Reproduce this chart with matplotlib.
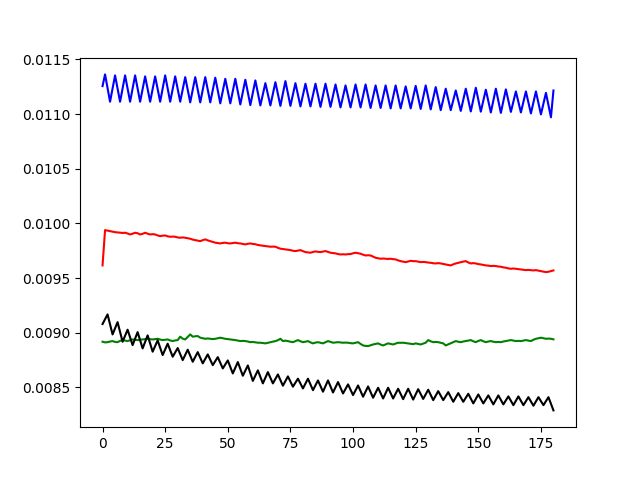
import matplotlib
matplotlib.use("Agg")
import matplotlib.pyplot as plt
import numpy as np

blue = [
    0.011256, 0.011363, 0.011238, 0.011113, 0.011234, 0.011354, 0.011234, 0.011113, 0.011234, 0.011354,
    0.011234, 0.011113, 0.011234, 0.011354, 0.011234, 0.011113, 0.011229, 0.011345, 0.011229, 0.011113,
    0.011229, 0.011345, 0.011229, 0.011113, 0.011234, 0.011354, 0.011234, 0.011113, 0.011229, 0.011345,
    0.011229, 0.011113, 0.011226, 0.011338, 0.011223, 0.011107, 0.011223, 0.011338, 0.011223, 0.011107,
    0.011223, 0.011338, 0.011223, 0.011107, 0.011220, 0.011333, 0.011216, 0.011098, 0.011211, 0.011323,
    0.011211, 0.011098, 0.011211, 0.011323, 0.011206, 0.011088, 0.011201, 0.011314, 0.011198, 0.011082,
    0.011195, 0.011308, 0.011194, 0.011079, 0.011181, 0.011283, 0.011181, 0.011079, 0.011186, 0.011292,
    0.011184, 0.011075, 0.011189, 0.011302, 0.011189, 0.011075, 0.011179, 0.011283, 0.011177, 0.011070,
    0.011174, 0.011278, 0.011174, 0.011070, 0.011174, 0.011278, 0.011172, 0.011066, 0.011172, 0.011278,
    0.011172, 0.011066, 0.011169, 0.011271, 0.011166, 0.011061, 0.011162, 0.011262, 0.011162, 0.011061,
    0.011166, 0.011271, 0.011166, 0.011061, 0.011166, 0.011271, 0.011164, 0.011056, 0.011159, 0.011262,
    0.011159, 0.011056, 0.011159, 0.011262, 0.011157, 0.011052, 0.011157, 0.011262, 0.011157, 0.011052,
    0.011153, 0.011253, 0.011153, 0.011052, 0.011155, 0.011258, 0.011153, 0.011047, 0.011155, 0.011262,
    0.011153, 0.011043, 0.011145, 0.011247, 0.011142, 0.011036, 0.011134, 0.011232, 0.011134, 0.011036,
    0.011126, 0.011216, 0.011123, 0.011029, 0.011131, 0.011232, 0.011128, 0.011024, 0.011133, 0.011241,
    0.011132, 0.011022, 0.011123, 0.011223, 0.011119, 0.011015, 0.011124, 0.011232, 0.011122, 0.011011,
    0.011119, 0.011226, 0.011123, 0.011020, 0.011114, 0.011207, 0.011111, 0.011015, 0.011111, 0.011207,
    0.011107, 0.011006, 0.011107, 0.011207, 0.011102, 0.010997, 0.011096, 0.011194, 0.011083, 0.010971,
    0.011216,
]

red = [
    0.009616, 0.009939, 0.009934, 0.009930, 0.009925, 0.009920, 0.009918, 0.009915, 0.009913, 0.009915,
    0.009908, 0.009899, 0.009906, 0.009915, 0.009910, 0.009899, 0.009905, 0.009915, 0.009906, 0.009899,
    0.009902, 0.009899, 0.009890, 0.009884, 0.009888, 0.009890, 0.009882, 0.009878, 0.009880, 0.009878,
    0.009872, 0.009869, 0.009872, 0.009869, 0.009864, 0.009860, 0.009852, 0.009847, 0.009842, 0.009838,
    0.009847, 0.009854, 0.009845, 0.009838, 0.009830, 0.009824, 0.009820, 0.009817, 0.009822, 0.009824,
    0.009819, 0.009817, 0.009821, 0.009824, 0.009819, 0.009817, 0.009812, 0.009808, 0.009814, 0.009817,
    0.009812, 0.009810, 0.009803, 0.009799, 0.009796, 0.009793, 0.009790, 0.009787, 0.009788, 0.009787,
    0.009777, 0.009769, 0.009766, 0.009762, 0.009759, 0.009756, 0.009750, 0.009747, 0.009752, 0.009756,
    0.009746, 0.009738, 0.009735, 0.009732, 0.009739, 0.009744, 0.009740, 0.009738, 0.009743, 0.009747,
    0.009740, 0.009732, 0.009729, 0.009726, 0.009720, 0.009716, 0.009718, 0.009716, 0.009719, 0.009720,
    0.009727, 0.009732, 0.009727, 0.009723, 0.009714, 0.009707, 0.009709, 0.009707, 0.009696, 0.009686,
    0.009681, 0.009677, 0.009679, 0.009677, 0.009675, 0.009677, 0.009673, 0.009671, 0.009662, 0.009655,
    0.009650, 0.009646, 0.009652, 0.009658, 0.009655, 0.009655, 0.009650, 0.009646, 0.009648, 0.009646,
    0.009642, 0.009640, 0.009636, 0.009634, 0.009637, 0.009634, 0.009629, 0.009625, 0.009620, 0.009616,
    0.009626, 0.009634, 0.009640, 0.009646, 0.009651, 0.009655, 0.009643, 0.009634, 0.009637, 0.009634,
    0.009628, 0.009625, 0.009620, 0.009616, 0.009614, 0.009610, 0.009612, 0.009610, 0.009606, 0.009604,
    0.009598, 0.009595, 0.009589, 0.009585, 0.009588, 0.009585, 0.009581, 0.009579, 0.009575, 0.009573,
    0.009575, 0.009573, 0.009570, 0.009573, 0.009568, 0.009564, 0.009559, 0.009555, 0.009558, 0.009564,
    0.009570,
]

green = [
    0.008918, 0.008912, 0.008914, 0.008920, 0.008924, 0.008916, 0.008914, 0.008926, 0.008933, 0.008928,
    0.008924, 0.008932, 0.008939, 0.008935, 0.008933, 0.008936, 0.008939, 0.008942, 0.008945, 0.008941,
    0.008939, 0.008942, 0.008945, 0.008938, 0.008933, 0.008936, 0.008939, 0.008930, 0.008924, 0.008930,
    0.008933, 0.008964, 0.008946, 0.008939, 0.008962, 0.008985, 0.008964, 0.008968, 0.008970, 0.008955,
    0.008950, 0.008945, 0.008948, 0.008945, 0.008942, 0.008945, 0.008950, 0.008955, 0.008950, 0.008945,
    0.008942, 0.008939, 0.008936, 0.008933, 0.008928, 0.008924, 0.008926, 0.008924, 0.008920, 0.008914,
    0.008916, 0.008912, 0.008909, 0.008909, 0.008906, 0.008903, 0.008908, 0.008914, 0.008919, 0.008924,
    0.008932, 0.008945, 0.008924, 0.008928, 0.008924, 0.008918, 0.008914, 0.008924, 0.008933, 0.008922,
    0.008914, 0.008918, 0.008924, 0.008912, 0.008903, 0.008910, 0.008914, 0.008908, 0.008903, 0.008914,
    0.008924, 0.008916, 0.008909, 0.008912, 0.008914, 0.008911, 0.008909, 0.008910, 0.008909, 0.008905,
    0.008903, 0.008908, 0.008914, 0.008898, 0.008884, 0.008880, 0.008878, 0.008886, 0.008893, 0.008898,
    0.008903, 0.008892, 0.008884, 0.008894, 0.008903, 0.008898, 0.008893, 0.008901, 0.008909, 0.008908,
    0.008909, 0.008906, 0.008903, 0.008900, 0.008896, 0.008903, 0.008898, 0.008893, 0.008901, 0.008909,
    0.008933, 0.008922, 0.008914, 0.008916, 0.008914, 0.008908, 0.008903, 0.008884, 0.008894, 0.008903,
    0.008914, 0.008924, 0.008918, 0.008914, 0.008920, 0.008924, 0.008929, 0.008933, 0.008922, 0.008914,
    0.008925, 0.008933, 0.008922, 0.008914, 0.008920, 0.008924, 0.008918, 0.008914, 0.008916, 0.008914,
    0.008920, 0.008924, 0.008929, 0.008933, 0.008928, 0.008924, 0.008926, 0.008924, 0.008929, 0.008933,
    0.008928, 0.008924, 0.008936, 0.008945, 0.008950, 0.008955, 0.008950, 0.008945, 0.008947, 0.008945,
    0.008940,
]

black = [
    0.009080, 0.009124, 0.009168, 0.009077, 0.008985, 0.009041, 0.009097, 0.009008, 0.008918, 0.008973,
    0.009028, 0.008958, 0.008887, 0.008947, 0.009006, 0.008932, 0.008857, 0.008917, 0.008976, 0.008902,
    0.008827, 0.008879, 0.008930, 0.008863, 0.008796, 0.008848, 0.008900, 0.008841, 0.008781, 0.008821,
    0.008860, 0.008805, 0.008750, 0.008798, 0.008845, 0.008790, 0.008735, 0.008779, 0.008823, 0.008772,
    0.008720, 0.008761, 0.008802, 0.008753, 0.008704, 0.008741, 0.008777, 0.008726, 0.008674, 0.008711,
    0.008747, 0.008688, 0.008628, 0.008680, 0.008732, 0.008670, 0.008607, 0.008654, 0.008701, 0.008631,
    0.008560, 0.008608, 0.008656, 0.008597, 0.008537, 0.008589, 0.008640, 0.008589, 0.008537, 0.008578,
    0.008619, 0.008568, 0.008516, 0.008559, 0.008601, 0.008554, 0.008507, 0.008544, 0.008580, 0.008536,
    0.008491, 0.008536, 0.008580, 0.008528, 0.008475, 0.008520, 0.008564, 0.008513, 0.008461, 0.008513,
    0.008564, 0.008509, 0.008454, 0.008502, 0.008549, 0.008497, 0.008445, 0.008487, 0.008528, 0.008479,
    0.008430, 0.008474, 0.008518, 0.008467, 0.008415, 0.008462, 0.008509, 0.008458, 0.008406, 0.008452,
    0.008497, 0.008448, 0.008399, 0.008448, 0.008497, 0.008448, 0.008399, 0.008444, 0.008488, 0.008441,
    0.008393, 0.008441, 0.008488, 0.008439, 0.008389, 0.008437, 0.008484, 0.008440, 0.008395, 0.008437,
    0.008479, 0.008432, 0.008384, 0.008425, 0.008466, 0.008425, 0.008384, 0.008421, 0.008457, 0.008413,
    0.008369, 0.008409, 0.008448, 0.008409, 0.008369, 0.008406, 0.008442, 0.008398, 0.008354, 0.008395,
    0.008436, 0.008395, 0.008354, 0.008391, 0.008427, 0.008386, 0.008345, 0.008386, 0.008427, 0.008386,
    0.008345, 0.008382, 0.008418, 0.008378, 0.008338, 0.008378, 0.008418, 0.008378, 0.008338, 0.008375,
    0.008411, 0.008372, 0.008333, 0.008372, 0.008411, 0.008375, 0.008338, 0.008375, 0.008411, 0.008351,
    0.008290,
]

series = [(blue, "b"), (red, "r"), (green, "g"), (black, "k")]

fig, ax = plt.subplots(figsize=(6.4, 4.8), dpi=100)
for vals, col in series:
    ax.plot(np.arange(len(vals)), vals, color=col)

fig.savefig("out.png", dpi=100)
